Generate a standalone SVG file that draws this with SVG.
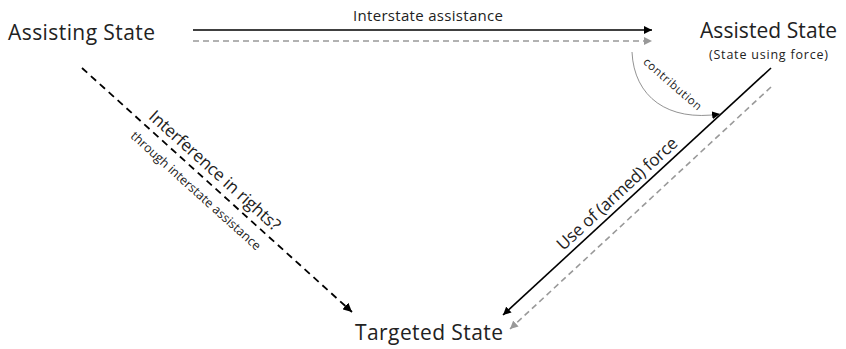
<svg xmlns="http://www.w3.org/2000/svg" width="846" height="349" viewBox="0 0 846 349">
<style>
text{font-family:"Open Sans","Noto Sans",sans-serif;fill:#222}
.big{font-size:21px}
.mid{font-size:15px}
.lab{font-size:17px}
.sm{font-size:12.5px}
.tiny{font-size:12.5px}
.xs{font-size:11.5px}
.solid{stroke:#000;stroke-width:1.6;fill:none}
.gdash{stroke:#999;stroke-width:1.6;fill:none;stroke-dasharray:6,4}
.bdash{stroke:#000;stroke-width:1.8;fill:none;stroke-dasharray:7,5}
.thin{stroke:#777;stroke-width:0.8;fill:none}
</style>
<defs>
<marker id="ab" viewBox="0 0 10 10" refX="10" refY="5" markerWidth="5" markerHeight="5" orient="auto" markerUnits="strokeWidth"><path d="M0,0L10,5L0,10z" fill="#000"/></marker>
<marker id="ag" viewBox="0 0 10 10" refX="10" refY="5" markerWidth="5" markerHeight="5" orient="auto" markerUnits="strokeWidth"><path d="M0,0L10,5L0,10z" fill="#999"/></marker>
<marker id="at" viewBox="0 0 10 10" refX="10" refY="5" markerWidth="10" markerHeight="10" orient="auto" markerUnits="strokeWidth"><path d="M0,0L10,5L0,10z" fill="#000"/></marker>
</defs>
<g id="assisting"><text class="big" x="8" y="40" textLength="147">Assisting State</text></g>
<g id="assisted"><text class="big" x="700" y="38" textLength="137">Assisted State</text><text class="sm" x="709" y="59" textLength="119">(State using force)</text></g>
<g id="targeted"><text class="big" x="355" y="340" textLength="148">Targeted State</text></g>
<g id="connectors">
<line class="solid" x1="193" y1="30" x2="652" y2="30" marker-end="url(#ab)"/>
<line class="gdash" x1="193" y1="41" x2="652" y2="41" marker-end="url(#ag)"/>
<line class="solid" x1="771" y1="68" x2="503" y2="315" marker-end="url(#ab)"/>
<line class="gdash" x1="771" y1="87" x2="510" y2="329" marker-end="url(#ag)"/>
<line class="bdash" x1="82" y1="68" x2="352" y2="312" marker-end="url(#ab)"/>
<path class="thin" d="M632,52 C634,97 668,122 720,114" marker-end="url(#at)"/>
</g>
<g id="labels">
<text class="mid" x="353" y="21" textLength="150">Interstate assistance</text>
<text class="xs" transform="translate(670,87) rotate(41)" text-anchor="middle" textLength="73">contribution</text>
<text class="lab" transform="translate(211,175) rotate(42)" text-anchor="middle" textLength="170">Interference in rights?</text>
<text class="tiny" transform="translate(193,194) rotate(42)" text-anchor="middle" textLength="170">through interstate assistance</text>
<text class="lab" transform="translate(621,198) rotate(-42.7)" text-anchor="middle" textLength="157">Use of (armed) force</text>
</g>
</svg>
